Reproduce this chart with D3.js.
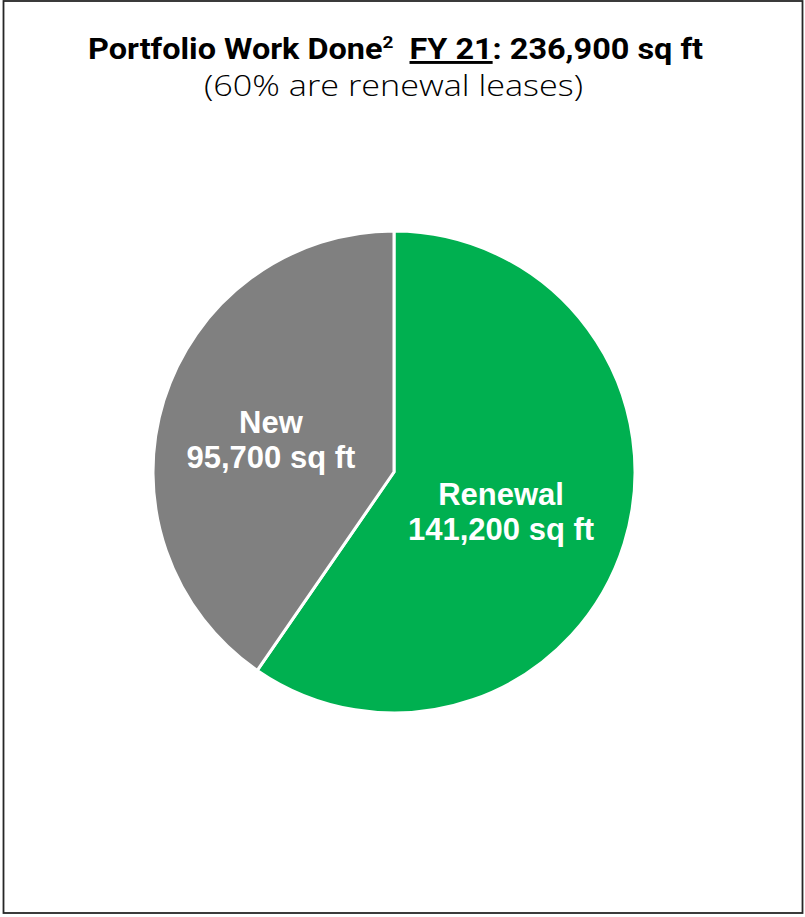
<!DOCTYPE html>
<html>
<head>
<meta charset="utf-8">
<script src="https://cdn.jsdelivr.net/npm/d3@7"></script>
<style>
  html, body { margin: 0; padding: 0; background: #fff; }
  svg { display: block; }
</style>
</head>
<body>
<div id="chart"></div>
<script>
// Leasing work done in FY 21, split by lease type (sq ft)
const categories = ["Renewal", "New"];
const values = [141200, 95700];
const colors = ["#00B050", "#808080"];
const totalLabel = "236,900 sq ft";
const subtitle = "(60% are renewal leases)";

const W = 805, H = 917;
const svg = d3.select("#chart").append("svg")
  .attr("width", W).attr("height", H);

// frame
svg.append("rect")
  .attr("x", 3.5).attr("y", 1).attr("width", 799).attr("height", 912)
  .attr("fill", "#fff").attr("stroke", "#262626").attr("stroke-width", 1.8);

// title
const title = svg.append("text")
  .attr("x", 395.5).attr("y", 59)
  .attr("text-anchor", "middle")
  .attr("font-family", "Roboto, 'DejaVu Sans Condensed', sans-serif")
  .attr("font-weight", "bold")
  .attr("font-size", 29)
  .attr("textLength", 615)
  .attr("lengthAdjust", "spacingAndGlyphs")
  .attr("fill", "#000");
title.append("tspan").text("Portfolio Work Done");
title.append("tspan").text("2").attr("font-size", 17).attr("dy", -11);
title.append("tspan").text("\u00a0\u00a0").attr("dy", 11);
title.append("tspan").text("FY 21").attr("text-decoration", "underline");
title.append("tspan").text(": " + totalLabel);

svg.append("text")
  .attr("x", 393.5).attr("y", 96)
  .attr("text-anchor", "middle")
  .attr("font-family", "'Open Sans', 'Noto Sans', sans-serif")
  .attr("font-weight", 300)
  .attr("font-size", 30)
  .attr("textLength", 379)
  .attr("lengthAdjust", "spacingAndGlyphs")
  .attr("fill", "#000")
  .text(subtitle);

// pie
const cx = 394, cy = 472, r = 241;
const pie = d3.pie().sort(null).value(d => d.value);
const arcs = pie(categories.map((c, i) => ({ name: c, value: values[i], color: colors[i] })));
const arc = d3.arc().innerRadius(0).outerRadius(r);

const g = svg.append("g").attr("transform", `translate(${cx},${cy})`);
g.selectAll("path").data(arcs).join("path")
  .attr("d", arc)
  .attr("fill", d => d.data.color)
  .attr("stroke", "#fff")
  .attr("stroke-width", 3)
  .attr("stroke-linejoin", "round");

// slice labels, set slightly left of and below each slice centroid
const fmt = d3.format(",");
const labelArc = d3.arc().innerRadius(r * 0.5).outerRadius(r * 0.5);
const labels = g.selectAll("text.lbl").data(arcs).join("text")
  .attr("class", "lbl")
  .attr("text-anchor", "middle")
  .attr("font-family", "'Liberation Sans', Arial, sans-serif")
  .attr("font-weight", "bold")
  .attr("font-size", 31)
  .attr("fill", "#fff")
  .attr("transform", d => {
    const [x, y] = labelArc.centroid(d);
    return `translate(${x - 8},${y + 4})`;
  });
labels.append("tspan").attr("x", 0).attr("dy", "-0.23em").text(d => d.data.name);
labels.append("tspan").attr("x", 0).attr("dy", "1.13em").text(d => fmt(d.data.value) + " sq ft");
</script>
</body>
</html>
